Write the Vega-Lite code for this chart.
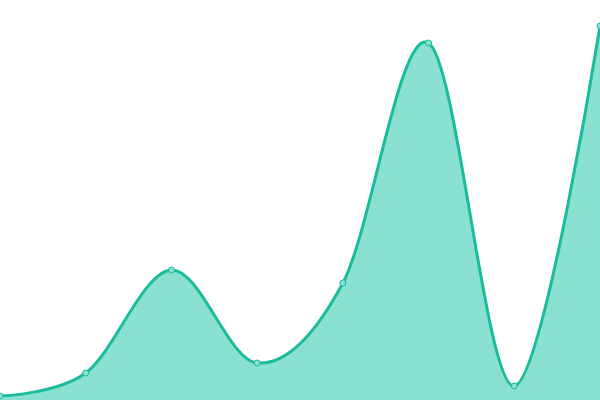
{
  "$schema": "https://vega.github.io/schema/vega-lite/v6.json",
  "width": 600,
  "height": 400,
  "autosize": {"type": "none"},
  "padding": 0,
  "background": "white",
  "config": {"view": {"stroke": null}},
  "data": {
    "values": [
      {"i": 0, "v": 4},
      {"i": 1, "v": 27},
      {"i": 2, "v": 130},
      {"i": 3, "v": 37},
      {"i": 4, "v": 117},
      {"i": 5, "v": 357},
      {"i": 6, "v": 14},
      {"i": 7, "v": 374}
    ]
  },
  "encoding": {
    "x": {"field": "i", "type": "quantitative", "scale": {"domain": [0, 7], "nice": false, "zero": false}, "axis": null},
    "y": {"field": "v", "type": "quantitative", "scale": {"domain": [0, 400], "nice": false}, "axis": null}
  },
  "layer": [
    {"mark": {"type": "area", "interpolate": "cardinal", "tension": 0, "color": "#8ae1d1", "opacity": 1}},
    {"mark": {"type": "line", "interpolate": "cardinal", "tension": 0, "color": "#1abc9c", "strokeWidth": 3}},
    {"mark": {"type": "point", "filled": true, "size": 36, "fill": "#8ae1d1", "stroke": "#1abc9c", "strokeWidth": 1, "opacity": 1}}
  ]
}
